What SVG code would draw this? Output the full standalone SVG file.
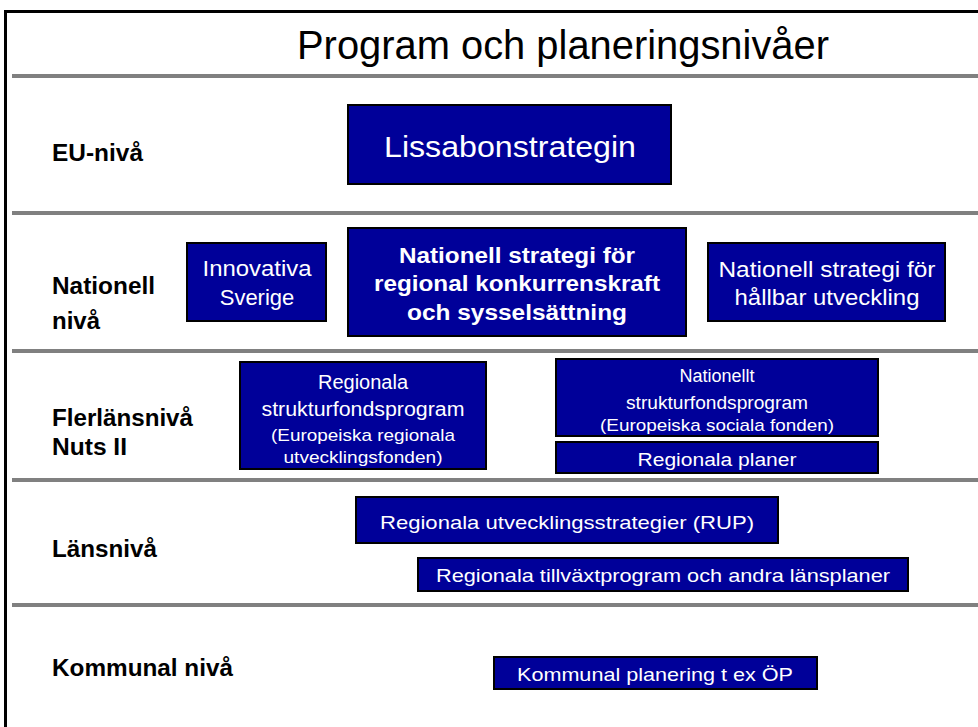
<svg xmlns="http://www.w3.org/2000/svg" width="978" height="727" viewBox="0 0 978 727">
<style>
.box{fill:#000099;stroke:#000;stroke-width:2}
.bt{fill:#fff;font-family:"Liberation Sans",Arial,sans-serif;text-anchor:middle}
.lbl{fill:#000;font-family:"Liberation Sans",Arial,sans-serif;font-weight:bold;font-size:23px}
.sep{stroke:#808080;stroke-width:4}
</style>
<rect width="978" height="727" fill="#fff"/>
<g id="frame">
<path d="M5.5 727 V11.5 H978" fill="none" stroke="#000" stroke-width="3"/>
</g>
<text x="563" y="59" font-family="Liberation Sans, Arial, sans-serif" font-size="41" text-anchor="middle" textLength="532" lengthAdjust="spacingAndGlyphs">Program och planeringsnivåer</text>
<g id="separators">
<line class="sep" x1="12" y1="76" x2="978" y2="76"/>
<line class="sep" x1="12" y1="213" x2="978" y2="213"/>
<line class="sep" x1="12" y1="351" x2="978" y2="351"/>
<line class="sep" x1="12" y1="480" x2="978" y2="480"/>
<line class="sep" x1="12" y1="605" x2="978" y2="605"/>
</g>
<g id="levels">
<text class="lbl" x="52" y="161" textLength="91" lengthAdjust="spacingAndGlyphs">EU-nivå</text>
<text class="lbl" x="52" y="294" textLength="103" lengthAdjust="spacingAndGlyphs">Nationell</text>
<text class="lbl" x="52" y="329" textLength="48" lengthAdjust="spacingAndGlyphs">nivå</text>
<text class="lbl" x="52" y="426" textLength="141" lengthAdjust="spacingAndGlyphs">Flerlänsnivå</text>
<text class="lbl" x="52" y="455" textLength="75" lengthAdjust="spacingAndGlyphs">Nuts II</text>
<text class="lbl" x="52" y="557" textLength="105" lengthAdjust="spacingAndGlyphs">Länsnivå</text>
<text class="lbl" x="52" y="676" textLength="181" lengthAdjust="spacingAndGlyphs">Kommunal nivå</text>
</g>
<g id="lissabon">
<rect class="box" x="348" y="105" width="323" height="79"/>
<text class="bt" x="510" y="157" font-size="30" textLength="252" lengthAdjust="spacingAndGlyphs">Lissabonstrategin</text>
</g>
<g id="innovativa">
<rect class="box" x="187" y="243" width="139" height="78"/>
<text class="bt" x="257" y="276" font-size="22" textLength="109" lengthAdjust="spacingAndGlyphs">Innovativa</text>
<text class="bt" x="257" y="305" font-size="22">Sverige</text>
</g>
<g id="nationell-konkurrens">
<rect class="box" x="348" y="228" width="338" height="108"/>
<text class="bt" x="517" y="263" font-size="22" font-weight="bold" textLength="236" lengthAdjust="spacingAndGlyphs">Nationell strategi för</text>
<text class="bt" x="517" y="291" font-size="22" font-weight="bold" textLength="286" lengthAdjust="spacingAndGlyphs">regional konkurrenskraft</text>
<text class="bt" x="517" y="320" font-size="22" font-weight="bold" textLength="220" lengthAdjust="spacingAndGlyphs">och sysselsättning</text>
</g>
<g id="nationell-hallbar">
<rect class="box" x="708" y="243" width="237" height="78"/>
<text class="bt" x="827" y="277" font-size="22" textLength="217" lengthAdjust="spacingAndGlyphs">Nationell strategi för</text>
<text class="bt" x="827" y="305" font-size="22" textLength="185" lengthAdjust="spacingAndGlyphs">hållbar utveckling</text>
</g>
<g id="regionala-strukturfond">
<rect class="box" x="240" y="362" width="246" height="107"/>
<text class="bt" x="363" y="389" font-size="20">Regionala</text>
<text class="bt" x="363" y="416" font-size="20" textLength="203" lengthAdjust="spacingAndGlyphs">strukturfondsprogram</text>
<text class="bt" x="363" y="441" font-size="17" textLength="184" lengthAdjust="spacingAndGlyphs">(Europeiska regionala</text>
<text class="bt" x="363" y="463" font-size="17" textLength="159" lengthAdjust="spacingAndGlyphs">utvecklingsfonden)</text>
</g>
<g id="nationellt-strukturfond">
<rect class="box" x="556" y="359" width="322" height="77"/>
<text class="bt" x="717" y="382" font-size="18">Nationellt</text>
<text class="bt" x="717" y="409" font-size="18" textLength="182" lengthAdjust="spacingAndGlyphs">strukturfondsprogram</text>
<text class="bt" x="717" y="431" font-size="17" textLength="234" lengthAdjust="spacingAndGlyphs">(Europeiska sociala fonden)</text>
</g>
<g id="regionala-planer">
<rect class="box" x="556" y="442" width="322" height="31"/>
<text class="bt" x="717" y="466" font-size="18" textLength="159" lengthAdjust="spacingAndGlyphs">Regionala planer</text>
</g>
<g id="rup">
<rect class="box" x="356" y="497" width="422" height="46"/>
<text class="bt" x="567" y="529" font-size="19" textLength="374" lengthAdjust="spacingAndGlyphs">Regionala utvecklingsstrategier (RUP)</text>
</g>
<g id="tillvaxt">
<rect class="box" x="418" y="558" width="490" height="33"/>
<text class="bt" x="663" y="582" font-size="19" textLength="454" lengthAdjust="spacingAndGlyphs">Regionala tillväxtprogram och andra länsplaner</text>
</g>
<g id="kommunal">
<rect class="box" x="494" y="657" width="323" height="32"/>
<text class="bt" x="655" y="681" font-size="19" textLength="276" lengthAdjust="spacingAndGlyphs">Kommunal planering t ex ÖP</text>
</g>
<g id="connectors"/>
</svg>
